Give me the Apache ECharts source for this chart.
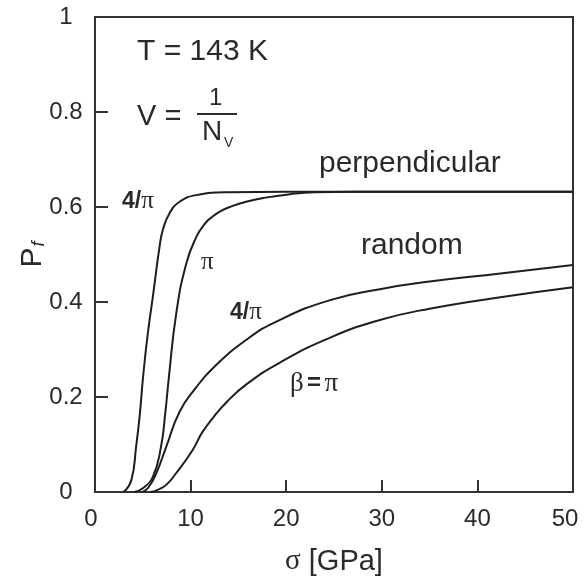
<!DOCTYPE html>
<html>
<head>
<meta charset="utf-8">
<script src="https://cdn.jsdelivr.net/npm/echarts@6/dist/echarts.min.js"></script>
<style>
  html, body { margin: 0; padding: 0; background: #fff; }
  #main { width: 587px; height: 577px; }
</style>
</head>
<body>
<div id="main"></div>
<script>
// stress sigma [GPa] and failure probability P_f
const perp4Sigma = [3.0, 3.8, 4.3, 4.7, 5.0, 5.5, 6.05, 6.75, 7.1, 7.8, 8.85, 10.6, 14, 20, 50];
const perp4P     = [0, 0.025, 0.095, 0.166, 0.236, 0.33, 0.411, 0.516, 0.552, 0.587, 0.611, 0.625, 0.631, 0.632, 0.632];

const perpPiSigma = [4.1, 5.0, 6.05, 6.9, 7.35, 7.7, 8.5, 9.55, 10.6, 11.5, 12.3, 13.2, 14.1, 15.8, 17.6, 20.4, 23, 27, 50];
const perpPiP     = [0, 0.008, 0.032, 0.095, 0.166, 0.236, 0.376, 0.481, 0.537, 0.565, 0.58, 0.592, 0.60, 0.611, 0.619, 0.627, 0.631, 0.632, 0.632];

const rand4Sigma = [5.0, 5.6, 6.4, 7.45, 8.85, 10.5, 12.3, 15.8, 19.3, 24.6, 29.8, 35.0, 42.4, 50];
const rand4P     = [0, 0.01, 0.039, 0.095, 0.169, 0.218, 0.26, 0.32, 0.362, 0.404, 0.427, 0.443, 0.46, 0.478];

const randPiSigma = [5.8, 6.5, 7.45, 8.5, 10.2, 11.2, 12.3, 13.8, 15.8, 19.3, 24.6, 29.8, 35.0, 42.4, 50];
const randPiP     = [0, 0.004, 0.015, 0.04, 0.088, 0.125, 0.155, 0.19, 0.226, 0.272, 0.325, 0.362, 0.386, 0.41, 0.431];

const xTicks = [0, 10, 20, 30, 40, 50];
const yTicks = [0, 0.2, 0.4, 0.6, 0.8, 1];

const pairs = (xs, ys) => xs.map((x, i) => [x, ys[i]]);

const SANS = '"Liberation Sans", Arial, sans-serif';
const SERIF = '"Liberation Serif", "DejaVu Serif", serif';
const INK = '#1e1e1e';
const TXT = '#2a2a2a';

const curve = (name, xs, ys) => ({
  name,
  type: 'line',
  data: pairs(xs, ys),
  smooth: 0.5,
  showSymbol: false,
  silent: true,
  lineStyle: { color: INK, width: 2 },
});

const chart = echarts.init(document.getElementById('main'));

chart.setOption({
  animation: false,
  backgroundColor: '#fff',
  grid: {
    left: 95, right: 14, top: 17, bottom: 85,
    outerBoundsMode: 'none',
    show: true, borderColor: '#333', borderWidth: 2,
  },
  xAxis: {
    type: 'value',
    min: xTicks[0], max: xTicks[xTicks.length - 1], interval: 10,
    name: '{s|σ} [GPa]',
    nameLocation: 'middle',
    nameGap: 55,
    nameTextStyle: {
      fontFamily: SANS, fontSize: 29, color: TXT,
      rich: { s: { fontFamily: SERIF, fontSize: 29, color: TXT } },
    },
    axisLine: { show: true, onZero: false, lineStyle: { color: '#333', width: 2 } },
    axisTick: { show: true, inside: true, length: 12, lineStyle: { color: '#333', width: 2 } },
    splitLine: { show: false },
    axisLabel: {
      margin: 15, fontFamily: SANS, fontSize: 24, color: TXT,
      formatter: v => v === 0 ? '{l|0}' : v === 50 ? '{r|50}' : String(v),
      rich: {
        l: { fontFamily: SANS, fontSize: 24, color: TXT, padding: [0, 8, 0, 0] },
        r: { fontFamily: SANS, fontSize: 24, color: TXT, padding: [0, 16, 0, 0] },
      },
    },
  },
  yAxis: {
    type: 'value',
    min: yTicks[0], max: yTicks[yTicks.length - 1], interval: 0.2,
    name: '{p|P}{f|f}',
    nameLocation: 'middle',
    nameRotate: 90,
    nameGap: 47,
    nameMoveOverlap: false,
    nameTextStyle: {
      rich: {
        p: { fontFamily: SANS, fontSize: 30, color: TXT },
        f: { fontFamily: SANS, fontSize: 18, fontStyle: 'italic', color: TXT, verticalAlign: 'bottom', padding: [12, 0, 0, 1] },
      },
    },
    axisLine: { show: true, onZero: false, lineStyle: { color: '#333', width: 2 } },
    axisTick: { show: true, inside: true, length: 13, lineStyle: { color: '#333', width: 2 } },
    splitLine: { show: false },
    axisLabel: { margin: 29, align: 'center', fontFamily: SANS, fontSize: 24, color: TXT },
  },
  series: [
    curve('perpendicular 4/pi', perp4Sigma, perp4P),
    curve('perpendicular pi', perpPiSigma, perpPiP),
    curve('random 4/pi', rand4Sigma, rand4P),
    curve('random pi', randPiSigma, randPiP),
  ],
  graphic: [
    { type: 'text', left: 137, top: 37, style: { text: 'T = 143 K', font: '30px ' + SANS, fill: TXT } },
    { type: 'text', left: 137, top: 102, style: { text: 'V =', font: '29px ' + SANS, fill: TXT } },
    { type: 'text', left: 209, top: 86, style: { text: '1', font: '24px ' + SANS, fill: TXT } },
    { type: 'line', shape: { x1: 197, y1: 114, x2: 237, y2: 114 }, style: { stroke: TXT, lineWidth: 2 } },
    { type: 'text', left: 202, top: 118, style: { text: 'N', font: '28px ' + SANS, fill: TXT } },
    { type: 'text', left: 224, top: 136, style: { text: 'V', font: '14px ' + SANS, fill: TXT } },
    { type: 'text', left: 319, top: 149, style: { text: 'perpendicular', font: '30px ' + SANS, fill: TXT } },
    { type: 'text', left: 361, top: 231, style: { text: 'random', font: '30px ' + SANS, fill: TXT } },
    { type: 'text', left: 122, top: 189, style: { rich: { a: { font: 'bold 23px ' + SANS, fill: TXT }, b: { font: '25px ' + SERIF, fill: TXT } }, text: '{a|4/}{b|π}' } },
    { type: 'text', left: 201, top: 250, style: { text: 'π', font: '25px ' + SERIF, fill: TXT } },
    { type: 'text', left: 230, top: 300, style: { rich: { a: { font: 'bold 23px ' + SANS, fill: TXT }, b: { font: '25px ' + SERIF, fill: TXT } }, text: '{a|4/}{b|π}' } },
    { type: 'text', left: 290, top: 370, style: { rich: { b: { font: '27px ' + SERIF, fill: TXT }, a: { font: 'bold 24px ' + SANS, fill: TXT } }, text: '{b|β} {a|=} {b|π}' } },
  ],
});
</script>
</body>
</html>
